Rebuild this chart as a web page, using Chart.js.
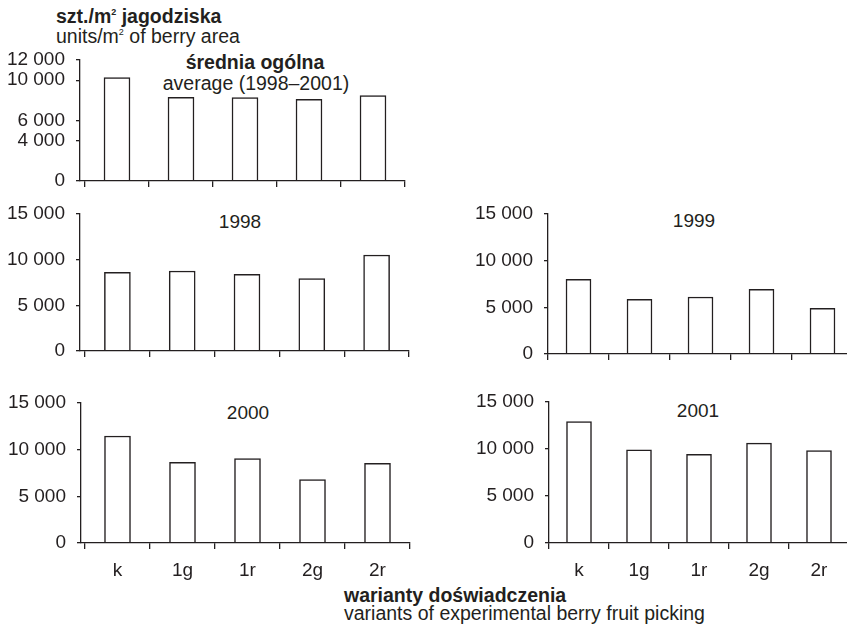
<!DOCTYPE html>
<html>
<head>
<meta charset="utf-8">
<script src="https://cdn.jsdelivr.net/npm/chart.js@4"></script>
<style>
html,body{margin:0;padding:0;background:#fff;overflow:hidden;width:847px;height:626px;}
body{position:relative;font-family:"Liberation Sans",Arial,sans-serif;color:#231f20;}
canvas{position:absolute;}
.t{position:absolute;white-space:nowrap;line-height:1;}
.c{transform:translateX(-50%);}
.b{font-weight:bold;}
.sup{position:relative;top:-8px;font-size:9px;}
</style>
</head>
<body>
<div class="t b" style="left:56px;top:6.5px;font-size:19.5px;">szt./m<span class="sup">2</span> jagodziska</div>
<div class="t" style="left:56px;top:26.5px;font-size:19.5px;">units/m<span class="sup">2</span> of berry area</div>
<div class="t b c" style="left:255px;top:52.5px;font-size:19.5px;">średnia ogólna</div>
<div class="t c" style="left:256px;top:73.5px;font-size:19.5px;">average (1998–2001)</div>
<div class="t c" style="left:240px;top:212px;font-size:19px;">1998</div>
<div class="t c" style="left:694px;top:211px;font-size:19px;">1999</div>
<div class="t c" style="left:248px;top:403px;font-size:19px;">2000</div>
<div class="t c" style="left:698px;top:400.5px;font-size:19px;">2001</div>
<div class="t b" style="left:344px;top:586px;font-size:19.5px;">warianty doświadczenia</div>
<div class="t" style="left:344px;top:604px;font-size:19.5px;">variants of experimental berry fruit picking</div>

<canvas id="cAvg"></canvas>
<canvas id="c1998"></canvas>
<canvas id="c1999"></canvas>
<canvas id="c2000"></canvas>
<canvas id="c2001"></canvas>

<script>
const categories = ['k', '1g', '1r', '2g', '2r'];
const avgValues = [10250, 8300, 8270, 8100, 8460];
const values1998 = [8620, 8760, 8400, 7920, 10510];
const values1999 = [8000, 5860, 6110, 6930, 4900];
const values2000 = [11460, 8640, 9040, 6790, 8530];
const values2001 = [12930, 9900, 9440, 10620, 9830];
const avgTicks = [0, 4000, 6000, 10000, 12000];
const yearTicks = [0, 5000, 10000, 15000];

const INK = '#231f20';
const PAD = 26;
Chart.defaults.font.family = '"Liberation Sans", Arial, sans-serif';

function fmt(v) { return String(v).replace(/\B(?=(\d{3})+(?!\d))/g, ' '); }

function makeChart(id, values, o) {
  const canvas = document.getElementById(id);
  const top = o.topY - PAD;
  const W = o.endX - o.cLeft + 6;
  const H = o.zeroY - top + (o.labels ? 45 : PAD);
  canvas.width = W; canvas.height = H;
  canvas.style.left = o.cLeft + 'px';
  canvas.style.top = top + 'px';
  canvas.style.width = W + 'px';
  canvas.style.height = H + 'px';
  const off = o.startX - o.axisX;
  new Chart(canvas, {
    type: 'bar',
    data: {
      labels: categories,
      datasets: [{
        data: values,
        backgroundColor: '#ffffff',
        borderColor: INK,
        borderWidth: 1.5,
        barThickness: o.bar
      }]
    },
    options: {
      responsive: false,
      animation: false,
      events: [],
      layout: { padding: { top: PAD, left: 0, right: 6, bottom: 0 } },
      plugins: { legend: { display: false }, tooltip: { enabled: false }, title: { display: false } },
      scales: {
        x: {
          offset: true,
          grid: { offset: true, drawOnChartArea: false, drawTicks: true, tickLength: 6, color: INK, lineWidth: 1.3 },
          border: { color: INK, width: 1.3, z: 1 },
          ticks: { display: o.labels, color: INK, font: { size: 19 }, padding: 10, autoSkip: false, maxRotation: 0 },
          afterFit: s => { s.height = H - (o.zeroY - top); }
        },
        y: {
          min: 0,
          max: o.max,
          afterBuildTicks: s => { s.ticks = o.ticks.map(v => ({ value: v })); },
          grid: { drawOnChartArea: false, drawTicks: true, tickLength: 4, color: INK, lineWidth: 1.3 },
          border: { color: INK, width: 1.3, z: 1 },
          ticks: { color: INK, font: { size: 19 }, padding: 11, autoSkip: false, callback: v => fmt(v) },
          afterFit: s => { s.width = o.startX - o.cLeft; }
        }
      }
    },
    plugins: [{
      id: 'shiftAxis',
      afterLayout(chart) {
        if (!off) return;
        const y = chart.scales.y, x = chart.scales.x;
        y.left -= off; y.right -= off; x.left -= off;
      }
    }]
  });
}

makeChart('cAvg', avgValues, { cLeft: 0, axisX: 80, startX: 85, endX: 405, topY: 60, zeroY: 181, max: 12000, ticks: avgTicks, labels: false, bar: 26 });
makeChart('c1998', values1998, { cLeft: 0, axisX: 80, startX: 85, endX: 409, topY: 214, zeroY: 351, max: 15000, ticks: yearTicks, labels: false, bar: 26 });
makeChart('c1999', values1999, { cLeft: 460, axisX: 548, startX: 548, endX: 853, topY: 214, zeroY: 354, max: 15000, ticks: yearTicks, labels: false, bar: 25 });
makeChart('c2000', values2000, { cLeft: 0, axisX: 81, startX: 85, endX: 410, topY: 403, zeroY: 543, max: 15000, ticks: yearTicks, labels: true, bar: 26 });
makeChart('c2001', values2001, { cLeft: 460, axisX: 549, startX: 549, endX: 849, topY: 402, zeroY: 543, max: 15000, ticks: yearTicks, labels: true, bar: 25 });
</script>
</body>
</html>
